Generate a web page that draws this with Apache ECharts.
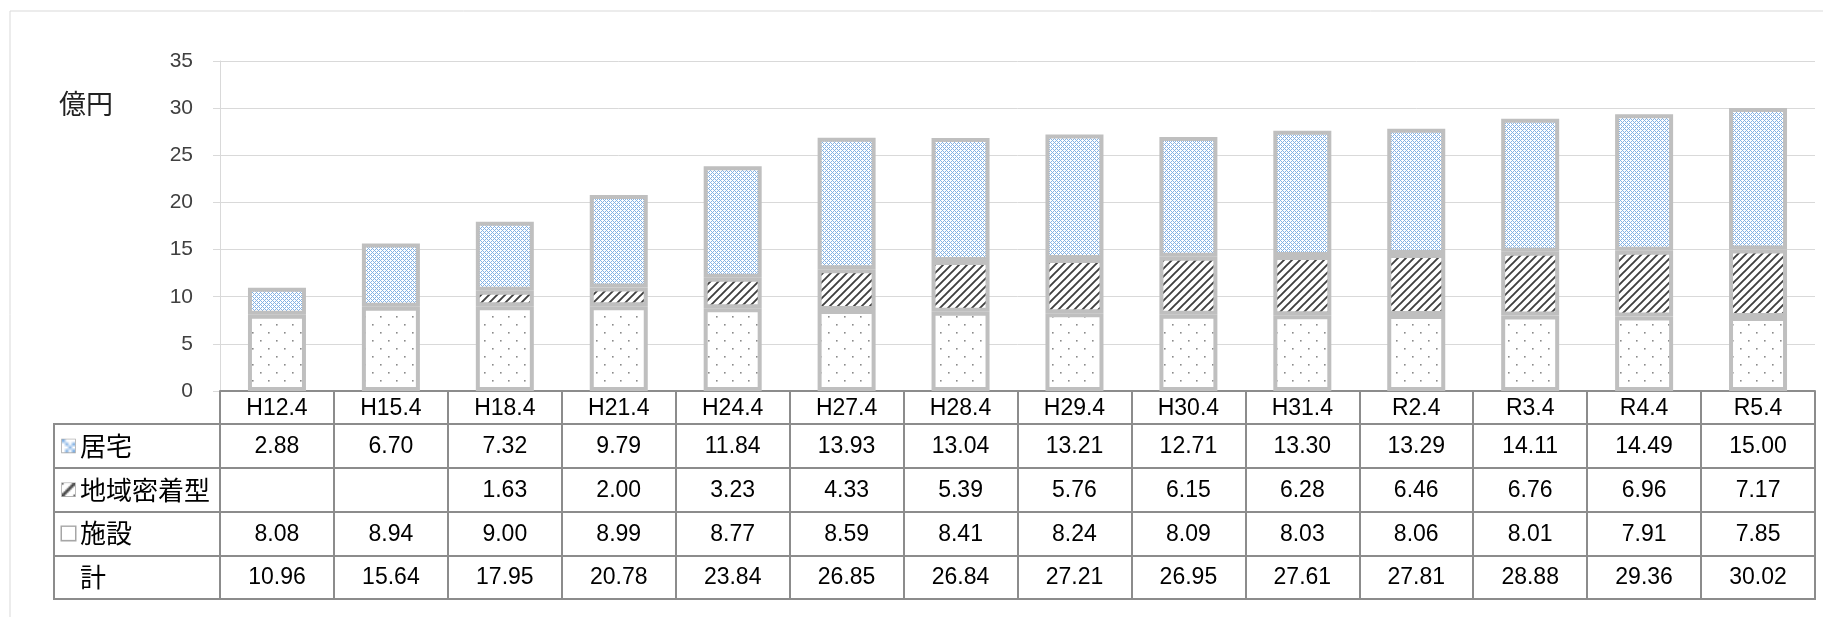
<!DOCTYPE html>
<html>
<head>
<meta charset="utf-8">
<script src="https://cdn.jsdelivr.net/npm/echarts@6/dist/echarts.min.js"></script>
<style>
html,body{margin:0;padding:0;background:#fff;}
#c{width:1823px;height:617px;}
</style>
</head>
<body>
<div id="c"></div>
<script>
// ---- data ----
const categories = ['H12.4','H15.4','H18.4','H21.4','H24.4','H27.4','H28.4','H29.4','H30.4','H31.4','R2.4','R3.4','R4.4','R5.4'];
const rowNames = ['居宅','地域密着型','施設','計'];
const kyotaku = [2.88, 6.70, 7.32, 9.79, 11.84, 13.93, 13.04, 13.21, 12.71, 13.30, 13.29, 14.11, 14.49, 15.00];
const chiiki = [null, null, 1.63, 2.00, 3.23, 4.33, 5.39, 5.76, 6.15, 6.28, 6.46, 6.76, 6.96, 7.17];
const shisetsu = [8.08, 8.94, 9.00, 8.99, 8.77, 8.59, 8.41, 8.24, 8.09, 8.03, 8.06, 8.01, 7.91, 7.85];
const total = [10.96, 15.64, 17.95, 20.78, 23.84, 26.85, 26.84, 27.21, 26.95, 27.61, 27.81, 28.88, 29.36, 30.02];
const yTicks = {min: 0, max: 35, interval: 5};

// ---- patterns ----
function makeCanvas(w, h, draw) {
  const c = document.createElement('canvas');
  c.width = w; c.height = h;
  const ctx = c.getContext('2d');
  ctx.fillStyle = '#ffffff';
  ctx.fillRect(0, 0, w, h);
  draw(ctx, w, h);
  return c;
}
const blueCanvas = makeCanvas(4, 4, (ctx) => {
  ctx.fillStyle = '#84b2e4';
  [[0,0],[1,1],[2,2],[3,3],[1,3],[3,1]].forEach(p => ctx.fillRect(p[0], p[1], 1, 1));
});
const hatchCanvas = makeCanvas(8, 8, (ctx) => {
  ctx.strokeStyle = '#404040';
  ctx.lineWidth = 1.9;
  ctx.beginPath();
  ctx.moveTo(-1, 9); ctx.lineTo(9, -1);
  ctx.moveTo(-1, 1); ctx.lineTo(1, -1);
  ctx.moveTo(7, 9); ctx.lineTo(9, 7);
  ctx.stroke();
});
const dotCanvas = makeCanvas(16, 16, (ctx) => {
  ctx.fillStyle = '#8a8a8a';
  ctx.fillRect(4, 4, 1.6, 1.6);
  ctx.fillRect(12, 12, 1.6, 1.6);
});
const patBlue = {image: blueCanvas, repeat: 'repeat'};
const patHatch = {image: hatchCanvas, repeat: 'repeat'};
const patDot = {image: dotCanvas, repeat: 'repeat'};

const iconBlue = {image: blueCanvas.toDataURL()};
const iconHatch = {image: hatchCanvas.toDataURL()};

const numFont = 'Liberation Sans, Arial, sans-serif';
const jpFont = 'Noto Sans CJK JP, sans-serif';
const tableLine = '#8c8c8c';
const gridLine = '#d9d9d9';

// table cell data: [colIndex, rowIndex, value]
const rowsData = [kyotaku, chiiki, shisetsu, total];
const cellData = [];
rowsData.forEach((arr, r) => arr.forEach((v, c) => { if (v !== null) cellData.push([c, r, v]); }));

const barStyle = (pat) => ({color: pat, borderColor: '#bfbfbf', borderWidth: 4});

const chart = echarts.init(document.getElementById('c'), null, {renderer: 'canvas'});
chart.setOption({
  animation: false,
  backgroundColor: '#ffffff',
  title: {
    text: '億円', left: 59, top: 90, padding: 0,
    textStyle: {fontFamily: jpFont, fontSize: 27, fontWeight: 'normal', color: '#222'}
  },
  graphic: [{
    type: 'rect', z: -1, silent: true,
    shape: {x: 10, y: 11, width: 1900, height: 700},
    style: {fill: 'none', stroke: '#d9d9d9', lineWidth: 1}
  }],
  grid: [
    {left: 220, right: 8, top: 61, height: 330},
    {left: 220, right: 8, top: 424, bottom: 18, show: true, borderColor: tableLine, borderWidth: 2},
    {left: 54, width: 166, top: 424, bottom: 18, show: true, borderColor: tableLine, borderWidth: 2}
  ],
  xAxis: [
    {
      gridIndex: 0, type: 'category', data: categories,
      axisLine: {show: true, lineStyle: {color: tableLine, width: 2}},
      axisTick: {show: true, length: 33, lineStyle: {color: tableLine, width: 2}},
      axisLabel: {margin: 6, fontSize: 23, fontFamily: numFont, color: '#000'},
      splitLine: {show: false}
    },
    {
      gridIndex: 1, type: 'category', data: categories, position: 'top',
      axisLine: {show: false}, axisTick: {show: false}, axisLabel: {show: false},
      splitLine: {show: true, lineStyle: {color: tableLine, width: 2}}
    },
    {
      gridIndex: 2, type: 'category', data: [''],
      axisLine: {show: false}, axisTick: {show: false}, axisLabel: {show: false},
      splitLine: {show: false}
    }
  ],
  yAxis: [
    {
      gridIndex: 0, type: 'value', min: yTicks.min, max: yTicks.max, interval: yTicks.interval,
      axisLine: {show: true, lineStyle: {color: gridLine, width: 1}},
      axisTick: {show: true, length: 7, lineStyle: {color: gridLine, width: 1}},
      axisLabel: {margin: 27, fontSize: 21, fontFamily: numFont, color: '#404040'},
      splitLine: {show: true, lineStyle: {color: gridLine, width: 1}}
    },
    {
      gridIndex: 1, type: 'category', data: rowNames, inverse: true,
      axisLine: {show: false}, axisTick: {show: false}, axisLabel: {show: false},
      splitLine: {show: true, lineStyle: {color: tableLine, width: 2}}
    },
    {
      gridIndex: 2, type: 'category', data: rowNames, inverse: true,
      axisLine: {show: false}, axisTick: {show: false},
      axisLabel: {
        show: true, inside: true, margin: 8, align: 'left',
        formatter: (v, i) => {
          const ic = ['i0', 'i1', 'i2', 'i3'][i];
          return '{' + ic + '|}{t|' + v + '}';
        },
        rich: {
          i0: {width: 13, height: 13, backgroundColor: iconBlue, borderColor: '#a6a6a6', borderWidth: 1.5},
          i1: {width: 13, height: 13, backgroundColor: iconHatch, borderColor: '#a6a6a6', borderWidth: 1.5},
          i2: {width: 13, height: 13, backgroundColor: '#fff', borderColor: '#a6a6a6', borderWidth: 1.5},
          i3: {width: 13, height: 13},
          t: {fontFamily: jpFont, fontSize: 26, color: '#000', padding: [0, 0, 0, 5]}
        }
      },
      splitLine: {show: true, lineStyle: {color: tableLine, width: 2}}
    }
  ],
  series: [
    {name: '施設', type: 'bar', stack: 'a', xAxisIndex: 0, yAxisIndex: 0, data: shisetsu, barWidth: 58, itemStyle: barStyle(patDot)},
    {name: '地域密着型', type: 'bar', stack: 'a', xAxisIndex: 0, yAxisIndex: 0, data: chiiki, barWidth: 58, itemStyle: barStyle(patHatch)},
    {name: '居宅', type: 'bar', stack: 'a', xAxisIndex: 0, yAxisIndex: 0, data: kyotaku, barWidth: 58, itemStyle: barStyle(patBlue)},
    {
      name: 'table', type: 'custom', xAxisIndex: 1, yAxisIndex: 1, data: cellData,
      renderItem: (params, api) => {
        const p = api.coord([api.value(0), api.value(1)]);
        return {
          type: 'text', x: p[0], y: p[1] + 1,
          style: {text: api.value(2).toFixed(2), align: 'center', verticalAlign: 'middle',
                  fontSize: 23, fontFamily: numFont, fill: '#000'}
        };
      }
    }
  ]
});
</script>
</body>
</html>
